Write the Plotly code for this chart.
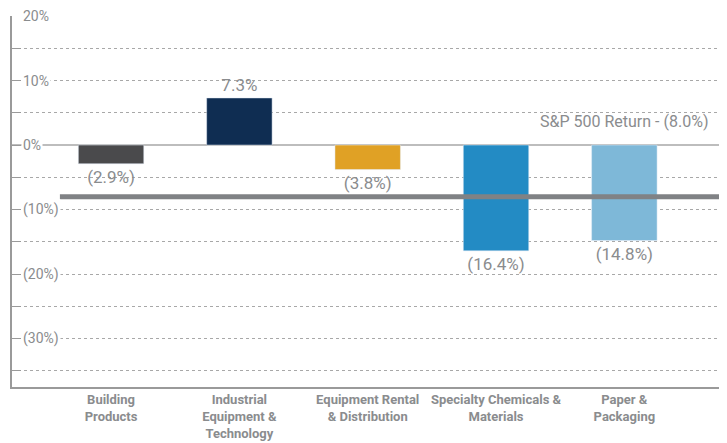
import plotly.graph_objects as go

categories = ["Building<br>Products", "Industrial<br>Equipment &<br>Technology",
              "Equipment Rental<br>& Distribution", "Specialty Chemicals &<br>Materials",
              "Paper &<br>Packaging"]
returns = [-2.9, 7.3, -3.8, -16.4, -14.8]
bar_colors = ["#4a4a4c", "#0f2d52", "#e0a125", "#238bc4", "#7eb8d8"]
sp500_return = -8.0
sp500_label = "S&P 500 Return - (8.0%)"
tick_vals = [20, 10, 0, -10, -20, -30]
tick_text = ["20%", "10%", "0%", "(10%)", "(20%)", "(30%)"]

def fmt(v):
    return f"{v:.1f}%" if v >= 0 else f"({abs(v):.1f}%)"

FONT = "Roboto"
GRAY = "#8a8c8e"

fig = go.Figure()
fig.add_trace(go.Bar(
    x=categories, y=returns, marker_color=bar_colors, width=0.51,
    text=[fmt(v) for v in returns], textposition="outside",
    textfont=dict(family=FONT, size=17, color=GRAY), cliponaxis=False,
))

fig.add_shape(type="line", xref="paper", yref="y", x0=0.067, x1=1,
              y0=sp500_return, y1=sp500_return,
              line=dict(color="#808285", width=5), layer="above")

annotations = [dict(x=categories[4], y=3.6, xref="x", yref="y", text=sp500_label,
                    showarrow=False, font=dict(family=FONT, size=16, color=GRAY))]
for v, t in zip(tick_vals, tick_text):
    annotations.append(dict(x=0, y=v, xref="paper", yref="y", text=t, showarrow=False,
                            xanchor="left", xshift=9, bgcolor="white", borderpad=1,
                            font=dict(family=FONT, size=14, color=GRAY)))

fig.update_layout(
    width=719, height=435, margin=dict(l=4, r=0, t=8, b=56),
    plot_bgcolor="white", paper_bgcolor="white", showlegend=False,
    annotations=annotations,
    xaxis=dict(range=[-0.772, 4.80], showgrid=False, showline=True,
               linecolor="#9a9a9a", linewidth=1.5, ticks="",
               tickfont=dict(family=FONT, size=13, color=GRAY, weight="bold")),
    yaxis=dict(range=[-37.5, 20], tick0=0, dtick=5, showticklabels=False,
               ticks="inside", ticklen=9, tickcolor="#9a9a9a",
               showline=True, linecolor="#9a9a9a", linewidth=1.5,
               showgrid=True, gridcolor="#a8a8a8", griddash="3px,3px", gridwidth=1,
               zeroline=True, zerolinecolor="#bdbdbd", zerolinewidth=2),
)
fig.write_html("out.html")
